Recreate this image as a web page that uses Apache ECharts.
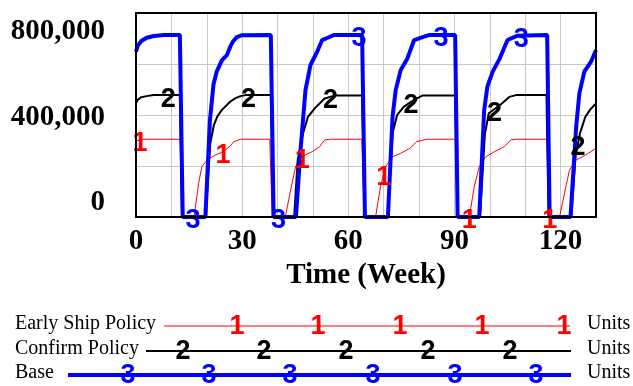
<!DOCTYPE html>
<html>
<head>
<meta charset="utf-8">
<script src="https://cdn.jsdelivr.net/npm/echarts@6/dist/echarts.min.js"></script>
<style>
  html, body { margin: 0; padding: 0; background: #fff; }
  #chart { width: 633px; height: 386px; }
</style>
</head>
<body>
<div id="chart"></div>
<script>
// ---------------- DATA ----------------
var seriesNames = ['Early Ship Policy', 'Confirm Policy', 'Base'];
var seriesUnits = ['Units', 'Units', 'Units'];
var seriesMarks = ['1', '2', '3'];

var xTickLabels = [0, 30, 60, 90, 120];
var yTickLabels = [0, 400000, 800000];

var earlyShipTimes = [0, 2, 12.5, 13.0, 16.4, 17.7, 18.6, 19.6, 21, 22.5, 24.3, 26.6, 27.6, 29.5,
  37.8, 38.5, 42.2, 43.7, 45.1, 46.7, 49.8, 51.9, 53.3, 55, 63.8, 64.5, 67.7, 69.1, 70.5, 72.5,
  74.8, 77.4, 79.3, 82.1, 90.2, 90.9, 94.2, 95.6, 97, 98.8, 101.3, 104.1, 105.9, 107.5, 116.2,
  116.9, 119.7, 121.1, 122.5, 124.4, 126.7, 130];
var earlyShipValues = [298000, 305000, 305000, 0, 0, 132000, 197000, 215000, 232000, 243000, 254000,
  278000, 295000, 305000, 305000, 0, 0, 106000, 197000, 236000, 256000, 276000, 302000, 305000,
  305000, 0, 0, 119000, 197000, 236000, 250000, 269000, 295000, 305000, 305000, 0, 0, 119000,
  197000, 236000, 256000, 276000, 302000, 305000, 305000, 0, 0, 93000, 184000, 224000, 240000, 269000];

var confirmTimes = [0, 0.5, 1.5, 3, 5, 12.4, 13.0, 19.7, 21, 22, 23, 24.3, 26.6, 28, 29.5, 31,
  38.1, 38.8, 44.7, 45.7, 47.2, 48.6, 50.5, 53.3, 56.1, 63.9, 64.6, 71.1, 72.5, 73.8, 75.7, 78.6,
  80.9, 90.2, 90.9, 97.2, 98.6, 99.7, 102.9, 105.5, 107.4, 116.0, 116.6, 123.0, 124.2, 125.5,
  127, 128.4, 130];
var confirmValues = [446000, 460000, 470000, 474000, 478000, 478000, 0, 0, 290000, 360000, 395000,
  420000, 452000, 465000, 474000, 478000, 478000, 0, 0, 224000, 328000, 393000, 426000, 465000,
  476000, 476000, 0, 0, 328000, 400000, 433000, 459000, 476000, 476000, 0, 0, 325000, 407000,
  439000, 471000, 478000, 478000, 0, 0, 236000, 330000, 393000, 422000, 445000];

var baseTimes = [0, 0.5, 1.5, 3, 5, 8, 12.4, 13.2, 19.6, 20.9, 21.9, 22.8, 24.3, 25.7, 26.7, 27.5,
  28.5, 30, 38.1, 38.9, 45.2, 46.5, 47.9, 49.3, 51.2, 52.6, 54.5, 56, 63.9, 64.7, 71.2, 72.5, 73.4,
  74.8, 76.7, 78.6, 81.4, 83, 90.2, 90.9, 97.0, 98.4, 99.3, 100.8, 102.6, 105, 107.8, 116.2, 116.9,
  122.8, 124.4, 125.3, 126.7, 128.6, 130];
var baseValues = [648000, 672000, 690000, 703000, 710000, 714000, 714000, 0, 0, 380000, 520000,
  570000, 615000, 635000, 670000, 690000, 705000, 713000, 714000, 0, 0, 263000, 498000, 596000,
  648000, 694000, 705000, 714000, 714000, 0, 0, 393000, 498000, 576000, 622000, 694000, 707000,
  714000, 714000, 0, 0, 420000, 511000, 570000, 616000, 694000, 711000, 714000, 0, 0, 354000,
  485000, 570000, 609000, 655000];

// weeks at which the numbered line labels sit
var earlyShipMarkTimes = [1.1, 24.6, 47, 70, 94.2, 116.9];
var confirmMarkTimes = [9.1, 31.8, 55, 77.7, 101.3, 124.9];
var baseMarkTimes = [16.1, 40.3, 63, 86.2, 108.9];

// ---------------- STYLE / LAYOUT ----------------
var colors = ['#ff0000', '#000000', '#0000ff'];
var widths = [1, 2, 4];
var serifFont = "'Liberation Serif', 'Times New Roman', serif";
var sansFont = "'Liberation Sans', Arial, sans-serif";

function pairs(ts, vs) { return ts.map(function (t, i) { return [t, vs[i]]; }); }
function interp(ts, vs, t) {
  for (var i = 0; i < ts.length - 1; i++) {
    if (t >= ts[i] && t <= ts[i + 1]) {
      var f = (t - ts[i]) / (ts[i + 1] - ts[i]);
      return vs[i] + f * (vs[i + 1] - vs[i]);
    }
  }
  return vs[vs.length - 1];
}

var allTimes = [earlyShipTimes, confirmTimes, baseTimes];
var allValues = [earlyShipValues, confirmValues, baseValues];
var allMarks = [earlyShipMarkTimes, confirmMarkTimes, baseMarkTimes];

var series = [];
for (var k = 0; k < 3; k++) {
  series.push({
    type: 'line', name: seriesNames[k], xAxisIndex: 0, yAxisIndex: 0,
    data: pairs(allTimes[k], allValues[k]),
    showSymbol: false, smooth: false, animation: false,
    lineStyle: { color: colors[k], width: widths[k] },
    z: 2 + k
  });
}
for (var k2 = 0; k2 < 3; k2++) {
  (function (k) {
    series.push({
      type: 'scatter', xAxisIndex: 0, yAxisIndex: 0, clip: false, animation: false,
      symbolSize: 0,
      itemStyle: { opacity: 1 },
      emphasis: { disabled: true },
      data: allMarks[k].map(function (t) { return [t, interp(allTimes[k], allValues[k], t)]; }),
      label: {
        show: true, position: 'inside', offset: [0, 4], formatter: seriesMarks[k], opacity: 1,
        color: colors[k], fontFamily: sansFont, fontWeight: 'bold', fontSize: 27
      },
      z: 10 + k
    });
  })(k2);
}

// legend drawn as graphic
var legendRows = [
  { y: 326, textX: 15, lineX1: 164, lineX2: 570, marks: [237, 318, 400, 482, 564] },
  { y: 351, textX: 15, lineX1: 146, lineX2: 571, marks: [183, 264, 346, 428, 510] },
  { y: 375, textX: 15, lineX1: 68, lineX2: 571, marks: [128, 209, 290, 373, 455, 536] }
];
var graphics = [];
legendRows.forEach(function (row, k) {
  graphics.push({
    type: 'text', left: row.textX, top: row.y - 12,
    style: { text: seriesNames[k], font: '20px ' + serifFont, fill: '#000' }
  });
  graphics.push({
    type: 'line', shape: { x1: row.lineX1, y1: row.y, x2: row.lineX2, y2: row.y },
    style: { stroke: colors[k], lineWidth: widths[k] }
  });
  row.marks.forEach(function (mx) {
    graphics.push({
      type: 'text', x: mx, y: row.y + 1,
      style: { text: seriesMarks[k], font: 'bold 27px ' + sansFont, fill: colors[k],
        textAlign: 'center', textVerticalAlign: 'middle' }
    });
  });
  graphics.push({
    type: 'text', left: 587, top: row.y - 12,
    style: { text: seriesUnits[k], font: '20px ' + serifFont, fill: '#000' }
  });
});

var option = {
  backgroundColor: '#ffffff',
  animation: false,
  grid: { left: 136, top: 13, right: 37, bottom: 169, show: true,
    borderColor: '#000', borderWidth: 2, backgroundColor: 'transparent', z: 20 },
  xAxis: [{
    type: 'value', min: 0, max: 130, interval: 10,
    axisLine: { show: false }, axisTick: { show: false },
    splitLine: { show: true, lineStyle: { color: '#c8c8c8', width: 1 } },
    axisLabel: {
      margin: 10, color: '#000', fontFamily: serifFont, fontWeight: 'bold', fontSize: 29,
      formatter: function (v) { return xTickLabels.indexOf(v) >= 0 ? String(v) : ''; }
    },
    name: 'Time (Week)', nameLocation: 'middle', nameGap: 42,
    nameTextStyle: { color: '#000', fontFamily: serifFont, fontWeight: 'bold', fontSize: 29 }
  }],
  yAxis: [{
    type: 'value', min: 0, max: 800000, interval: 200000,
    axisLine: { show: false }, axisTick: { show: false },
    splitLine: { show: true, lineStyle: { color: '#c8c8c8', width: 1 } },
    axisLabel: { show: false }
  }, {
    type: 'value', position: 'left', min: -67000, max: 889000, alignTicks: false,
    axisLine: { show: false }, axisTick: { show: false }, splitLine: { show: false },
    axisLabel: {
      show: true, customValues: yTickLabels, margin: 31,
      color: '#000', fontFamily: serifFont, fontWeight: 'bold', fontSize: 29,
      formatter: function (v) { return Number(v).toLocaleString('en-US'); }
    }
  }],
  graphic: graphics,
  series: series
};

var chart = echarts.init(document.getElementById('chart'), null, { renderer: 'canvas' });
chart.setOption(option);
</script>
</body>
</html>
